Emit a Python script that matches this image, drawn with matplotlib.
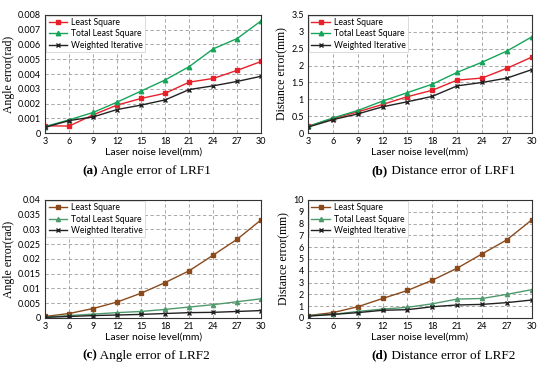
import matplotlib
matplotlib.use('Agg')
import matplotlib.pyplot as plt

noise = [3, 6, 9, 12, 15, 18, 21, 24, 27, 30]

# (a) angle error LRF1
a_ls = [0.0005, 0.00048, 0.00124, 0.0019, 0.00235, 0.0027, 0.00345, 0.0037, 0.00425, 0.00485]
a_tls = [0.00045, 0.0009, 0.0014, 0.0021, 0.00285, 0.0036, 0.0045, 0.0057, 0.0064, 0.0076]
a_wi = [0.0004, 0.00085, 0.0011, 0.0016, 0.0019, 0.00225, 0.00295, 0.0032, 0.0035, 0.00385]

# (b) distance error LRF1
b_ls = [0.2, 0.43, 0.63, 0.85, 1.08, 1.27, 1.57, 1.63, 1.92, 2.25]
b_tls = [0.2, 0.45, 0.67, 0.95, 1.2, 1.45, 1.8, 2.1, 2.43, 2.85]
b_wi = [0.18, 0.4, 0.57, 0.78, 0.93, 1.09, 1.4, 1.5, 1.63, 1.88]

# (c) angle error LRF2
c_ls = [0.0005, 0.0015, 0.0032, 0.0054, 0.0084, 0.012, 0.016, 0.0213, 0.0267, 0.0333]
c_tls = [0.0003, 0.0008, 0.0013, 0.0018, 0.0022, 0.0029, 0.0037, 0.0045, 0.0055, 0.0065]
c_wi = [0.0002, 0.0005, 0.0008, 0.001, 0.0012, 0.0015, 0.0018, 0.0019, 0.0022, 0.0025]

# (d) distance error LRF2
d_ls = [0.2, 0.45, 0.95, 1.65, 2.33, 3.2, 4.22, 5.43, 6.63, 8.32]
d_tls = [0.2, 0.3, 0.55, 0.75, 0.9, 1.2, 1.6, 1.65, 2.0, 2.4]
d_wi = [0.15, 0.3, 0.45, 0.65, 0.7, 0.95, 1.1, 1.15, 1.3, 1.52]

labels = ['Least Square', 'Total Least Square', 'Weighted Iterative']
ylabels = ['Angle error(rad)', 'Distance error(mm)', 'Angle error(rad)', 'Distance error(mm)']
captions = [('(a)', ' Angle error of LRF1'), ('(b)', ' Distance error of LRF1'),
            ('(c)', ' Angle error of LRF2'), ('(d)', ' Distance error of LRF2')]
yticks = [
    ([0, 0.001, 0.002, 0.003, 0.004, 0.005, 0.006, 0.007, 0.008],
     ['0', '0.001', '0.002', '0.003', '0.004', '0.005', '0.006', '0.007', '0.008']),
    ([0, 0.5, 1, 1.5, 2, 2.5, 3, 3.5],
     ['0', '0.5', '1', '1.5', '2', '2.5', '3', '3.5']),
    ([0, 0.005, 0.01, 0.015, 0.02, 0.025, 0.03, 0.035, 0.04],
     ['0', '0.005', '0.01', '0.015', '0.02', '0.025', '0.03', '0.035', '0.04']),
    (list(range(11)), [str(i) for i in range(11)]),
]
series = [(a_ls, a_tls, a_wi), (b_ls, b_tls, b_wi), (c_ls, c_tls, c_wi), (d_ls, d_tls, d_wi)]

top_colors = ['#e8202a', '#16a55a', '#222222']
bot_colors = ['#8a4a1c', '#4f9a6c', '#222222']

fig = plt.figure(figsize=(5.5, 3.71), dpi=100)
rects = [
    [0.082, 0.641, 0.393, 0.319],
    [0.560, 0.641, 0.407, 0.319],
    [0.082, 0.143, 0.393, 0.318],
    [0.560, 0.143, 0.407, 0.318],
]
cap_pos = [(0.149, 0.530), (0.676, 0.530), (0.149, 0.033), (0.676, 0.033)]

for i in range(4):
    ax = fig.add_axes(rects[i])
    cols = top_colors if i < 2 else bot_colors
    ls, tls, wi = series[i]
    ms = 3.2 if i < 2 else 3.0
    ax.plot(noise, ls, color=cols[0], marker='s', ms=ms, lw=1.0, label=labels[0])
    ax.plot(noise, tls, color=cols[1], marker='^', ms=ms, lw=1.0, label=labels[1])
    ax.plot(noise, wi, color=cols[2], marker='x', ms=ms, mew=1.0, lw=1.0, label=labels[2])
    ax.set_xlim(3, 30)
    ax.set_xticks(noise)
    ax.set_xticklabels([str(n) for n in noise], fontsize=6.5, family='Lato')
    tv, tl = yticks[i]
    ax.set_ylim(tv[0], tv[-1])
    ax.set_yticks(tv)
    ax.set_yticklabels(tl, fontsize=6.5, family='Lato')
    ax.grid(True, color='#9a9a9a', ls=(0, (4, 3)), lw=0.6)
    ax.tick_params(length=0, pad=3)
    for s in ax.spines.values():
        s.set_color('#333333')
        s.set_linewidth(0.8)
    ax.set_xlabel('Laser noise level(mm)', fontsize=7.5, family='Lato', labelpad=1)
    ax.set_ylabel(ylabels[i], fontsize=8.5, family='Liberation Serif', labelpad=2)
    leg = ax.legend(loc='upper left', frameon=True, fancybox=False,
                    borderpad=0.3, labelspacing=0.25, handlelength=2.2,
                    handletextpad=0.4, borderaxespad=0.1, prop={'family': 'Lato', 'size': 6.2})
    leg.get_frame().set_edgecolor('#cccccc')
    leg.get_frame().set_linewidth(0.5)
    leg.get_frame().set_alpha(1)

    # caption: bold tag followed by plain text
    x0, y0 = cap_pos[i]
    tag = fig.text(x0, y0, captions[i][0], fontsize=9.5, family='Liberation Serif',
                   fontweight='bold', ha='left', va='baseline')
    ax.annotate(captions[i][1], xy=(1, 0), xycoords=tag, fontsize=9.5,
                family='Liberation Serif', ha='left', va='bottom', annotation_clip=False)

fig.savefig('out.png', dpi=100)
